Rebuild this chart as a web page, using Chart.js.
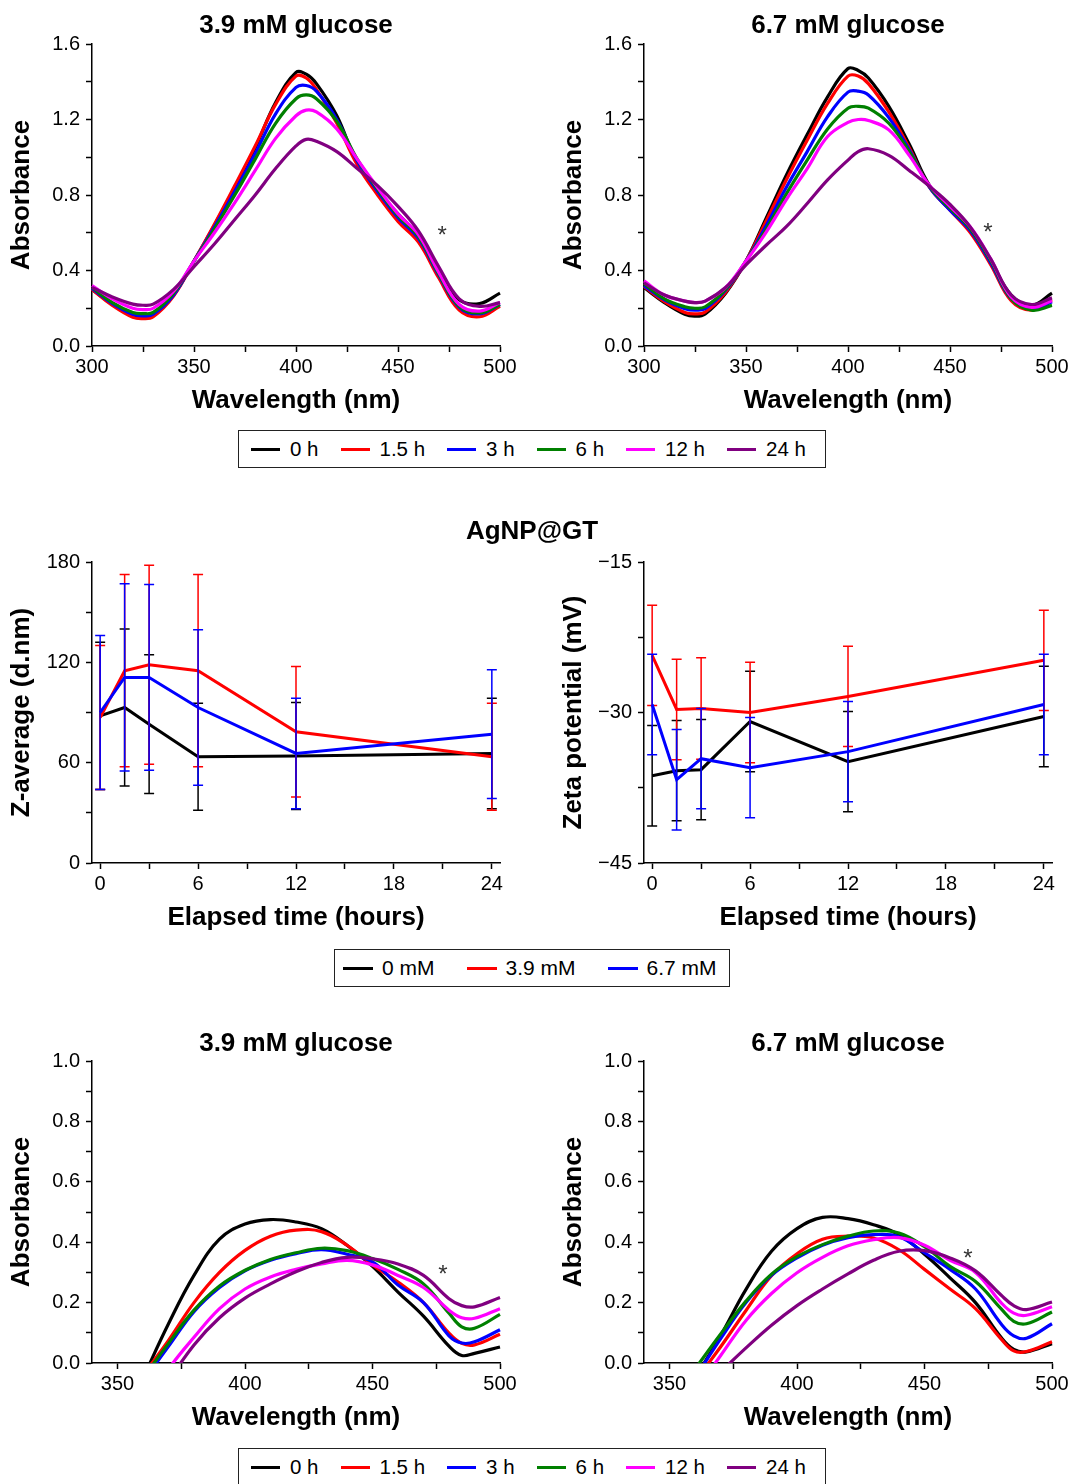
<!DOCTYPE html>
<html>
<head>
<meta charset="utf-8">
<script src="https://cdn.jsdelivr.net/npm/chart.js@4.4.1/dist/chart.umd.min.js"></script>
<style>
  body { margin: 0; background: #fff; font-family: 'Liberation Sans', Arial, sans-serif; color: #000; }
  #page { position: relative; width: 1074px; height: 1484px; overflow: hidden; }
  canvas { position: absolute; }
  .title { position: absolute; width: 408px; text-align: center; font-weight: bold; font-size: 26px; line-height: 30px; }
  .legend { position: absolute; box-sizing: border-box; border: 1.5px solid #222; display: flex; align-items: center; white-space: nowrap; }
  .legend .sw { display: inline-block; height: 3px; }
</style>
</head>
<body>
<div id="page">
  <canvas id="c1" width="530" height="420" style="left:0;top:0"></canvas>
  <canvas id="c2" width="522" height="420" style="left:552px;top:0"></canvas>
  <canvas id="c3" width="530" height="457" style="left:0;top:480px"></canvas>
  <canvas id="c4" width="522" height="457" style="left:552px;top:480px"></canvas>
  <canvas id="c5" width="530" height="437" style="left:0;top:1000px"></canvas>
  <canvas id="c6" width="522" height="437" style="left:552px;top:1000px"></canvas>

  <div class="title" style="left:92px;top:9px">3.9 mM glucose</div>
  <div class="title" style="left:644px;top:9px">6.7 mM glucose</div>
  <div class="title" style="left:328px;top:515px">AgNP@GT</div>
  <div class="title" style="left:92px;top:1027px">3.9 mM glucose</div>
  <div class="title" style="left:644px;top:1027px">6.7 mM glucose</div>

  <div class="legend" id="leg1" style="left:238px;top:430px;width:588px;height:38px;padding-left:12px;font-size:20.5px"></div>
  <div class="legend" id="leg2" style="left:334px;top:949px;width:396px;height:38px;padding-left:8px;font-size:21px"></div>
  <div class="legend" id="leg3" style="left:238px;top:1448px;width:588px;height:38px;padding-left:12px;font-size:20.5px"></div>
</div>
<script>
// ---- data ----
const timeLabels = ['0 h', '1.5 h', '3 h', '6 h', '12 h', '24 h'];
const concLabels = ['0 mM', '3.9 mM', '6.7 mM'];
const timeColors = ['#000000', '#ff0000', '#0000ff', '#008000', '#ff00ff', '#800080'];
const concColors = ['#000000', '#ff0000', '#0000ff'];

// top row spectra (wavelength nm)
const wlTop = [300, 310, 320, 325, 330, 340, 350, 360, 370, 380, 390, 400, 405, 410, 420, 430, 440, 450, 460, 470, 480, 490, 500];
const absTop39 = [
  [0.30, 0.22, 0.158, 0.148, 0.16, 0.27, 0.45, 0.64, 0.84, 1.05, 1.29, 1.45, 1.44, 1.39, 1.22, 0.97, 0.82, 0.70, 0.58, 0.39, 0.245, 0.225, 0.28],
  [0.30, 0.215, 0.152, 0.145, 0.155, 0.265, 0.45, 0.645, 0.85, 1.06, 1.28, 1.43, 1.42, 1.36, 1.18, 0.96, 0.80, 0.66, 0.55, 0.36, 0.19, 0.155, 0.21],
  [0.305, 0.225, 0.168, 0.16, 0.168, 0.27, 0.45, 0.63, 0.82, 1.02, 1.23, 1.37, 1.38, 1.35, 1.20, 0.98, 0.82, 0.68, 0.57, 0.375, 0.205, 0.17, 0.22],
  [0.31, 0.23, 0.178, 0.172, 0.178, 0.28, 0.45, 0.62, 0.80, 0.99, 1.18, 1.31, 1.33, 1.31, 1.19, 0.99, 0.83, 0.69, 0.58, 0.38, 0.21, 0.175, 0.22],
  [0.32, 0.25, 0.20, 0.193, 0.20, 0.29, 0.45, 0.60, 0.76, 0.93, 1.10, 1.22, 1.25, 1.24, 1.15, 0.99, 0.84, 0.70, 0.59, 0.39, 0.22, 0.185, 0.23],
  [0.31, 0.26, 0.222, 0.216, 0.222, 0.30, 0.42, 0.54, 0.67, 0.80, 0.94, 1.06, 1.095, 1.085, 1.03, 0.94, 0.85, 0.74, 0.61, 0.42, 0.25, 0.21, 0.23]
];
const absTop67 = [
  [0.31, 0.23, 0.168, 0.158, 0.17, 0.28, 0.45, 0.68, 0.91, 1.12, 1.32, 1.47, 1.46, 1.42, 1.27, 1.07, 0.85, 0.73, 0.61, 0.45, 0.27, 0.215, 0.28],
  [0.315, 0.235, 0.178, 0.17, 0.18, 0.285, 0.45, 0.665, 0.885, 1.09, 1.285, 1.43, 1.43, 1.39, 1.24, 1.05, 0.84, 0.72, 0.60, 0.43, 0.24, 0.19, 0.245],
  [0.32, 0.245, 0.198, 0.19, 0.198, 0.295, 0.45, 0.64, 0.845, 1.03, 1.215, 1.345, 1.35, 1.33, 1.21, 1.04, 0.84, 0.72, 0.61, 0.44, 0.25, 0.195, 0.235],
  [0.33, 0.25, 0.208, 0.20, 0.208, 0.30, 0.45, 0.62, 0.81, 0.985, 1.15, 1.26, 1.27, 1.26, 1.18, 1.03, 0.845, 0.73, 0.62, 0.45, 0.25, 0.19, 0.215],
  [0.345, 0.27, 0.238, 0.23, 0.238, 0.31, 0.45, 0.605, 0.78, 0.94, 1.11, 1.185, 1.20, 1.195, 1.145, 1.01, 0.85, 0.74, 0.63, 0.46, 0.26, 0.205, 0.24],
  [0.335, 0.27, 0.238, 0.23, 0.238, 0.31, 0.43, 0.535, 0.635, 0.755, 0.88, 0.985, 1.03, 1.045, 1.01, 0.93, 0.845, 0.75, 0.63, 0.46, 0.27, 0.22, 0.255]
];

// bottom row spectra (curves rise from below the axis)
const wlBottom = [360, 370, 380, 390, 400, 410, 420, 430, 440, 450, 460, 470, 480, 485, 490, 500];
const absBot39 = [
  [-0.05, 0.13, 0.29, 0.41, 0.46, 0.475, 0.467, 0.445, 0.39, 0.32, 0.235, 0.155, 0.056, 0.025, 0.032, 0.053],
  [-0.04, 0.075, 0.20, 0.30, 0.373, 0.42, 0.44, 0.435, 0.39, 0.325, 0.268, 0.20, 0.099, 0.065, 0.06, 0.095],
  [-0.06, 0.055, 0.17, 0.25, 0.305, 0.34, 0.362, 0.375, 0.36, 0.335, 0.258, 0.20, 0.09, 0.066, 0.07, 0.11],
  [-0.05, 0.065, 0.175, 0.255, 0.307, 0.343, 0.365, 0.38, 0.372, 0.346, 0.31, 0.262, 0.165, 0.12, 0.115, 0.161],
  [-0.15, -0.02, 0.085, 0.18, 0.245, 0.285, 0.31, 0.328, 0.34, 0.325, 0.29, 0.25, 0.175, 0.15, 0.148, 0.18],
  [-0.19, -0.06, 0.06, 0.15, 0.215, 0.262, 0.302, 0.333, 0.35, 0.345, 0.328, 0.29, 0.213, 0.19, 0.186, 0.217]
];
const absBot67 = [
  [-0.05, 0.09, 0.244, 0.37, 0.445, 0.482, 0.478, 0.458, 0.425, 0.36, 0.282, 0.20, 0.085, 0.045, 0.037, 0.064],
  [-0.06, 0.053, 0.174, 0.289, 0.362, 0.41, 0.42, 0.414, 0.375, 0.31, 0.245, 0.18, 0.08, 0.04, 0.038, 0.07],
  [-0.05, 0.08, 0.20, 0.29, 0.348, 0.39, 0.415, 0.425, 0.418, 0.365, 0.31, 0.245, 0.13, 0.09, 0.082, 0.13],
  [-0.02, 0.095, 0.205, 0.294, 0.352, 0.392, 0.42, 0.437, 0.43, 0.385, 0.32, 0.27, 0.18, 0.138, 0.13, 0.169],
  [-0.094, 0.024, 0.141, 0.23, 0.299, 0.35, 0.388, 0.408, 0.415, 0.39, 0.34, 0.30, 0.20, 0.165, 0.158, 0.186],
  [-0.11, -0.03, 0.05, 0.125, 0.19, 0.245, 0.295, 0.34, 0.37, 0.372, 0.348, 0.305, 0.225, 0.19, 0.177, 0.202]
];

// middle row: DLS / zeta vs elapsed time
const hours = [0, 1.5, 3, 6, 12, 24];
const zAvg = [
  [88, 93, 83, 63.5, 64, 65.5],
  [87, 115, 118.5, 115, 78.5, 63.5],
  [90, 111, 111, 93, 65.5, 77]
];
const zAvgErr = [
  [44, 47, 41.5, 32, 32, 33],
  [43, 57.5, 59.5, 57.5, 39, 32],
  [46, 56, 55.5, 46.5, 33, 38.5]
];
const zeta = [
  [-36.3, -35.8, -35.7, -30.9, -34.9, -30.4],
  [-24.3, -29.7, -29.6, -30.0, -28.4, -24.8],
  [-29.2, -36.7, -34.6, -35.5, -33.9, -29.2]
];
const zetaErr = [
  [5, 5, 5, 5, 5, 5],
  [5, 5, 5.05, 5, 5, 5],
  [5, 5, 5, 5, 5, 5]
];

// ticks
const wlTopTicks = [300, 325, 350, 375, 400, 425, 450, 475, 500];
const wlTopLabels = [300, 350, 400, 450, 500];
const wlBotTicks = [350, 375, 400, 425, 450, 475, 500];
const wlBotLabels = [350, 400, 450, 500];
const absTopTicks = [0, 0.2, 0.4, 0.6, 0.8, 1, 1.2, 1.4, 1.6];
const absTopLabels = [0, 0.4, 0.8, 1.2, 1.6];
const absBotTicks = [0, 0.1, 0.2, 0.3, 0.4, 0.5, 0.6, 0.7, 0.8, 0.9, 1];
const absBotLabels = [0, 0.2, 0.4, 0.6, 0.8, 1];
const hourTicks = [0, 3, 6, 9, 12, 15, 18, 21, 24];
const hourLabels = [0, 6, 12, 18, 24];
const zTicks = [0, 30, 60, 90, 120, 150, 180];
const zLabels = [0, 60, 120, 180];
const zetaTicks = [-45, -37.5, -30, -22.5, -15];
const zetaLabels = [-45, -30, -15];

// ---- drawing ----
const FONT = "'Liberation Sans', Arial, sans-serif";

const errorBars = {
  id: 'errorBars',
  afterDatasetDraw(chart, args) {
    const ds = chart.data.datasets[args.index];
    if (!ds.errors) return;
    const { ctx, scales: { x, y } } = chart;
    ctx.save();
    ctx.strokeStyle = ds.borderColor;
    ctx.lineWidth = 1.5;
    ds.data.forEach((p, i) => {
      const px = x.getPixelForValue(p.x);
      const top = y.getPixelForValue(p.y + ds.errors[i]);
      const bot = y.getPixelForValue(p.y - ds.errors[i]);
      ctx.beginPath();
      ctx.moveTo(px, top); ctx.lineTo(px, bot);
      ctx.moveTo(px - 5, top); ctx.lineTo(px + 5, top);
      ctx.moveTo(px - 5, bot); ctx.lineTo(px + 5, bot);
      ctx.stroke();
    });
    ctx.restore();
  }
};

const starMark = {
  id: 'starMark',
  afterDatasetsDraw(chart, args, opts) {
    if (opts.x == null) return;
    const { ctx, scales: { x, y } } = chart;
    ctx.save();
    ctx.fillStyle = '#333';
    ctx.font = '24px ' + FONT;
    ctx.textAlign = 'center';
    ctx.textBaseline = 'alphabetic';
    ctx.fillText('*', x.getPixelForValue(opts.x), y.getPixelForValue(opts.y) + 13);
    ctx.restore();
  }
};
Chart.register(errorBars, starMark);

function axis(min, max, tickVals, labelVals, fmt, title, isX) {
  return {
    type: 'linear', min: min, max: max,
    afterBuildTicks: s => { s.ticks = tickVals.map(v => ({ value: v })); },
    afterFit: s => { if (isX) s.height = 74; else s.width = 92; },
    grid: { display: true, drawOnChartArea: false, drawTicks: true, tickLength: 6, tickWidth: 1.5, tickColor: '#000' },
    border: { display: true, color: '#000', width: 1.5 },
    ticks: {
      color: '#000', font: { family: FONT, size: 20 }, padding: isX ? 3 : 6,
      autoSkip: false, maxRotation: 0,
      callback: v => labelVals.includes(v) ? fmt(v) : ''
    },
    title: {
      display: true, text: title, color: '#000',
      font: { family: FONT, size: 26, weight: 'bold' },
      padding: isX ? { top: 0, bottom: 4 } : { top: 6, bottom: 0 }
    }
  };
}

const fixed1 = v => v.toFixed(1);
const plain = v => String(v);
const minus = v => v < 0 ? '\u2212' + Math.abs(v) : String(v);

function baseOptions(padTop, padRight, xAxis, yAxis, star) {
  return {
    responsive: false, animation: false, devicePixelRatio: 1,
    layout: { padding: { top: padTop, right: padRight, left: 0, bottom: 0 } },
    scales: { x: xAxis, y: yAxis },
    plugins: { legend: { display: false }, tooltip: { enabled: false }, starMark: star || {} }
  };
}

function spectrum(id, wl, rows, clipBottom, options) {
  new Chart(document.getElementById(id), {
    type: 'line',
    data: {
      datasets: rows.map((vals, i) => ({
        label: timeLabels[i],
        data: wl.map((w, j) => ({ x: w, y: vals[j] })),
        borderColor: timeColors[i],
        borderWidth: 3.2,
        pointRadius: 0,
        tension: 0.4,
        order: rows.length - i,
        clip: clipBottom ? { left: 5, top: 5, right: 5, bottom: 0 } : 5
      }))
    },
    options: Object.assign(options, { elements: { line: { capBezierPoints: false } } })
  });
}

function timeSeries(id, means, errs, options) {
  new Chart(document.getElementById(id), {
    type: 'line',
    data: {
      datasets: means.map((vals, i) => ({
        label: concLabels[i],
        data: hours.map((h, j) => ({ x: h, y: vals[j] })),
        errors: errs[i],
        borderColor: concColors[i],
        borderWidth: 3,
        pointRadius: 0,
        tension: 0,
        order: means.length - i,
        clip: 8
      }))
    },
    options: options
  });
}

spectrum('c1', wlTop, absTop39, false, baseOptions(44, 30,
  axis(300, 500, wlTopTicks, wlTopLabels, plain, 'Wavelength (nm)', true),
  axis(0, 1.6, absTopTicks, absTopLabels, fixed1, 'Absorbance', false),
  { x: 471.6, y: 0.615 }));
spectrum('c2', wlTop, absTop67, false, baseOptions(44, 22,
  axis(300, 500, wlTopTicks, wlTopLabels, plain, 'Wavelength (nm)', true),
  axis(0, 1.6, absTopTicks, absTopLabels, fixed1, 'Absorbance', false),
  { x: 468.6, y: 0.63 }));

timeSeries('c3', zAvg, zAvgErr, baseOptions(82, 30,
  axis(-0.5, 24.5, hourTicks, hourLabels, plain, 'Elapsed time (hours)', true),
  axis(0, 180, zTicks, zLabels, plain, 'Z-average (d.nm)', false)));
timeSeries('c4', zeta, zetaErr, baseOptions(82, 22,
  axis(-0.5, 24.5, hourTicks, hourLabels, plain, 'Elapsed time (hours)', true),
  axis(-45, -15, zetaTicks, zetaLabels, minus, 'Zeta potential (mV)', false)));

spectrum('c5', wlBottom, absBot39, true, baseOptions(61, 30,
  axis(340, 500, wlBotTicks, wlBotLabels, plain, 'Wavelength (nm)', true),
  axis(0, 1, absBotTicks, absBotLabels, fixed1, 'Absorbance', false),
  { x: 477.6, y: 0.311 }));
spectrum('c6', wlBottom, absBot67, true, baseOptions(61, 22,
  axis(340, 500, wlBotTicks, wlBotLabels, plain, 'Wavelength (nm)', true),
  axis(0, 1, absBotTicks, absBotLabels, fixed1, 'Absorbance', false),
  { x: 467, y: 0.364 }));

// legends
function legend(id, labels, colors, swW, gapIn, gapOut) {
  const box = document.getElementById(id);
  labels.forEach((lab, i) => {
    const sw = document.createElement('span');
    sw.className = 'sw';
    sw.style.width = swW + 'px';
    sw.style.background = colors[i];
    sw.style.marginRight = gapIn + 'px';
    const tx = document.createElement('span');
    tx.textContent = lab;
    if (i < labels.length - 1) tx.style.marginRight = gapOut + 'px';
    box.appendChild(sw);
    box.appendChild(tx);
  });
}
legend('leg1', timeLabels, timeColors, 29, 10, 22);
legend('leg2', concLabels, concColors, 30, 9, 32);
legend('leg3', timeLabels, timeColors, 29, 10, 22);
</script>
</body>
</html>
